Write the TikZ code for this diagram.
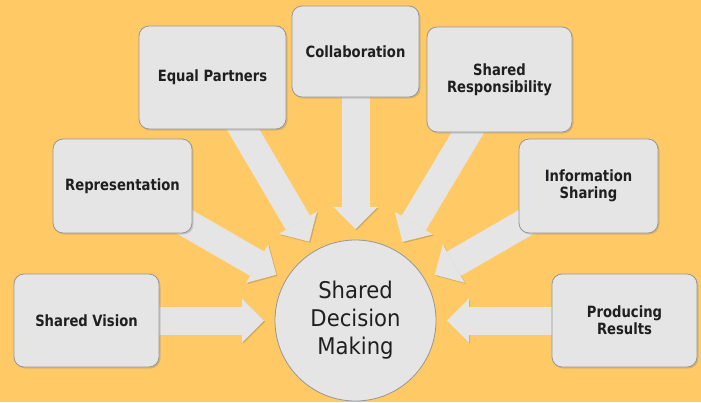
\documentclass[tikz,border=0pt]{standalone}
\usepackage{fontspec}
\setmainfont{DejaVu Sans}
\newfontfamily\labelfont[FakeStretch=0.85]{DejaVu Sans}
\newfontfamily\hubfont[FakeStretch=0.92]{DejaVu Sans}
\usetikzlibrary{arrows.meta,calc,shadows,backgrounds}
\definecolor{sdmbg}{RGB}{255,202,102}
\definecolor{boxgrey}{RGB}{229,229,229}
\definecolor{edgegrey}{RGB}{150,150,150}
\definecolor{inkgrey}{RGB}{31,31,31}
\pgfdeclarelayer{arrowlayer}
\pgfsetlayers{background,arrowlayer,main}
\tikzstyle{factor} = [rectangle,rounded corners=10pt,fill=boxgrey,draw=edgegrey,line width=0.8pt,text=inkgrey,align=center,inner sep=0pt,font=\labelfont\bfseries\fontsize{15.5}{17}\selectfont,drop shadow={shadow xshift=1.5pt,shadow yshift=-1.5pt,opacity=0.3}]
\tikzstyle{hub} = [circle,fill=boxgrey,draw=edgegrey,line width=0.8pt,minimum size=161pt,inner sep=0pt,text=inkgrey,align=center,font=\hubfont\fontsize{23}{28}\selectfont]
\tikzstyle{feed} = [line width=28pt,draw=boxgrey,-{Triangle[length=22pt,width=44pt,line width=0pt]},preaction={draw=black!70,opacity=0.25,transform canvas={shift={(1.2pt,-1.2pt)}}}]

\begin{document}
\begin{tikzpicture}[x=1pt,y=-1pt]
    \useasboundingbox (0,0) rectangle (701,402);
    \begin{pgfonlayer}{background}
      \fill [sdmbg] (0,0) rectangle (701,402);
    \end{pgfonlayer}

    \node [hub] (sdm) at (355.5,320.5) {Shared\\Decision\\Making};

    \node [factor,minimum width=145pt,minimum height=93pt] (vision) at (86.5,320.5) {Shared Vision};
    \node [factor,minimum width=139pt,minimum height=94pt] (repr) at (122.5,186) {Representation};
    \node [factor,minimum width=147pt,minimum height=103pt] (partners) at (212.5,77.5) {Equal Partners};
    \node [factor,minimum width=127pt,minimum height=91pt] (collab) at (355.5,51.5) {Collaboration};
    \node [factor,minimum width=145pt,minimum height=105pt] (respons) at (499.5,79.5) {Shared\\Responsibility};
    \node [factor,minimum width=139pt,minimum height=94pt] (info) at (588.5,186) {Information\\Sharing};
    \node [factor,minimum width=145pt,minimum height=93pt] (results) at (624.5,320.5) {Producing\\Results};

    \begin{pgfonlayer}{arrowlayer}
      \foreach \src in {vision,repr,partners,collab,respons,info,results}
        \draw [feed] (\src.center) -- ($(sdm.center)!91.5pt!(\src.center)$);
    \end{pgfonlayer}
\end{tikzpicture}
\end{document}
